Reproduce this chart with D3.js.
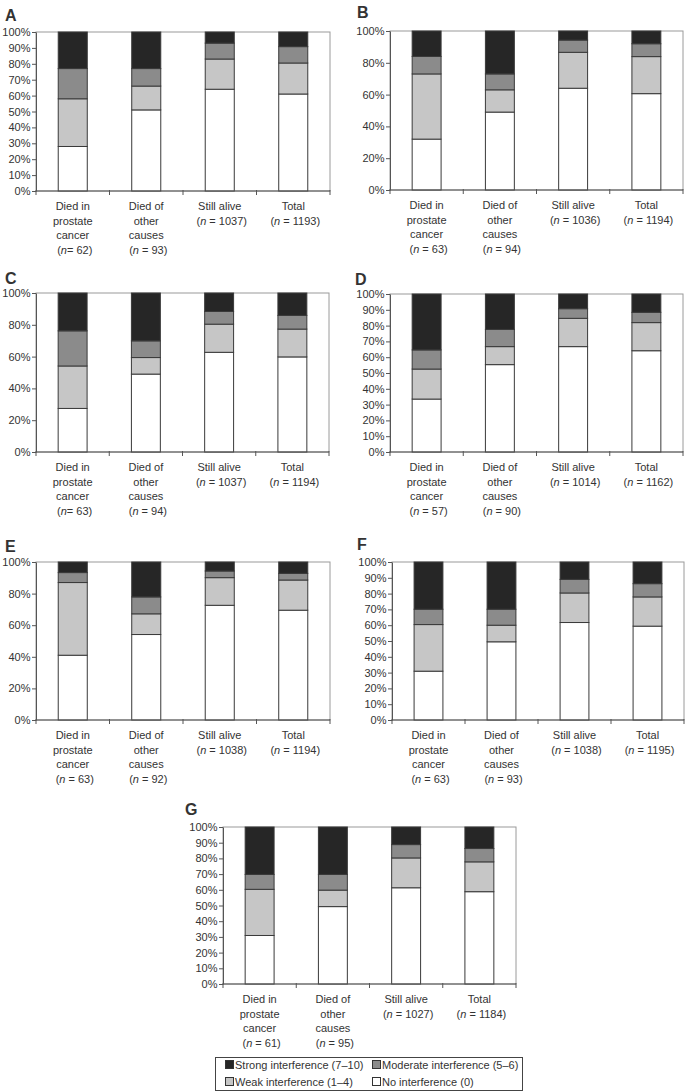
<!DOCTYPE html>
<html>
<head>
<meta charset="utf-8">
<script src="https://cdn.jsdelivr.net/npm/d3@7"></script>
<style>
  html, body { margin: 0; padding: 0; background: #fff; }
  svg { display: block; }
  text { font-family: "Liberation Sans", Arial, sans-serif; fill: #333; }
</style>
</head>
<body>
<svg id="chart" width="685" height="1092"></svg>
<script>
// ---------- DATA ----------
const panels = ["A", "B", "C", "D", "E", "F", "G"];
const groups = ["Died in prostate cancer", "Died of other causes", "Still alive", "Total"];
const groupLines = [["Died in", "prostate", "cancer"], ["Died of", "other", "causes"], ["Still alive"], ["Total"]];
const levels = ["No interference (0)", "Weak interference (1–4)", "Moderate interference (5–6)", "Strong interference (7–10)"];
const nValues = [
  [62, 93, 1037, 1193],
  [63, 94, 1036, 1194],
  [63, 94, 1037, 1194],
  [57, 90, 1014, 1162],
  [63, 92, 1038, 1194],
  [63, 93, 1038, 1195],
  [61, 95, 1027, 1184]
];
const tightN = [true, false, true, false, false, false, false]; // "(n= 62)" style on first group
const noneVals = [
  [28, 51, 64, 61],
  [32, 49, 64, 60.6],
  [27.4, 49, 62.7, 59.8],
  [33.5, 55.3, 66.7, 64.1],
  [41, 54.1, 72.6, 69.5],
  [30.9, 49.5, 61.7, 59.4],
  [30.9, 49.3, 61.3, 58.8]
];
const weakVals = [
  [30, 15, 19, 19.5],
  [41, 14, 22.6, 23.3],
  [26.7, 10.4, 17.7, 17.5],
  [19, 11.4, 17.9, 17.8],
  [46, 13.1, 17.5, 19.1],
  [29.5, 10.5, 18.7, 18.5],
  [29.4, 10.5, 19, 19]
];
const moderateVals = [
  [19, 11, 10, 10.3],
  [11, 10, 7.7, 8.1],
  [22.1, 10.5, 8, 8.6],
  [12.1, 10.9, 6.1, 6.5],
  [6.3, 10.7, 4.2, 4.2],
  [9.7, 10.1, 8.6, 8.4],
  [9.5, 10, 8.5, 8.5]
];
const strongVals = [
  [23, 23, 7, 9.2],
  [16, 27, 5.7, 8],
  [23.8, 30.1, 11.6, 14.1],
  [35.4, 22.4, 9.3, 11.6],
  [6.7, 22.1, 5.7, 7.2],
  [29.9, 29.9, 11, 13.7],
  [30.2, 30.2, 11.2, 13.7]
];
const yTickStep = [10, 20, 20, 10, 20, 10, 10];

// ---------- LAYOUT / STYLE ----------
const frames = [
  {x0: 36,  x1: 330, y0: 32,  y1: 191, lx: 5,   ly: 21},
  {x0: 390, x1: 683, y0: 31,  y1: 190, lx: 357, ly: 18},
  {x0: 36,  x1: 329, y0: 293, y1: 452, lx: 5,   ly: 284},
  {x0: 390, x1: 683, y0: 294, y1: 452, lx: 355, ly: 285},
  {x0: 36,  x1: 330, y0: 562, y1: 720, lx: 5,   ly: 552},
  {x0: 392, x1: 684, y0: 562, y1: 720, lx: 357, ly: 550},
  {x0: 223, x1: 516, y0: 827, y1: 984, lx: 185, ly: 815}
];
const colors = ["#ffffff", "#c6c6c6", "#8b8b8b", "#262626"];
const legendOrder = [3, 2, 1, 0];

const svg = d3.select("#chart");

panels.forEach((p, pi) => {
  const f = frames[pi];
  const series = [noneVals[pi], weakVals[pi], moderateVals[pi], strongVals[pi]];
  const rows = groups.map((g, gi) => {
    const r = {group: g};
    levels.forEach((l, li) => r[l] = series[li][gi]);
    return r;
  });
  const stacked = d3.stack().keys(levels)(rows);

  const x = d3.scaleBand().domain(groups).range([f.x0, f.x1]).paddingInner(0.605).paddingOuter(0.3025);
  const y = d3.scaleLinear().domain([0, 100]).range([f.y1, f.y0]);

  const g = svg.append("g");

  // frame (top/right)
  g.append("rect")
    .attr("x", f.x0).attr("y", f.y0)
    .attr("width", f.x1 - f.x0).attr("height", f.y1 - f.y0)
    .attr("fill", "none").attr("stroke", "#9a9a9a").attr("stroke-width", 1);

  // bars
  stacked.forEach((s, si) => {
    g.append("g").selectAll("rect").data(s).join("rect")
      .attr("x", d => x(d.data.group))
      .attr("width", x.bandwidth())
      .attr("y", d => y(d[1]))
      .attr("height", d => y(d[0]) - y(d[1]))
      .attr("fill", colors[si])
      .attr("stroke", "#3a3a3a")
      .attr("stroke-width", 1);
  });

  // y axis
  const ticks = d3.range(0, 100 + 0.001, yTickStep[pi]);
  const yAxis = d3.axisLeft(y).tickValues(ticks).tickFormat(d => d + "%").tickSize(4).tickSizeOuter(0).tickPadding(1.5);
  const ya = g.append("g").attr("transform", `translate(${f.x0},0)`).call(yAxis);
  ya.select(".domain").attr("stroke", "#555");
  ya.selectAll(".tick line").attr("stroke", "#555");
  ya.selectAll("text").attr("font-size", 11).attr("fill", "#333")
    .style("font-family", '"Liberation Sans", Arial, sans-serif');

  // x axis line
  g.append("line").attr("x1", f.x0).attr("x2", f.x1).attr("y1", f.y1).attr("y2", f.y1)
    .attr("stroke", "#555");
  // category boundary ticks
  const step = x.step();
  const bounds = d3.range(0, groups.length + 1).map(i => f.x0 + i * step);
  g.selectAll(".bt").data(bounds).join("line")
    .attr("x1", d => d).attr("x2", d => d)
    .attr("y1", f.y1 - 1).attr("y2", f.y1 + 4)
    .attr("stroke", "#555");

  // category labels
  groups.forEach((gName, gi) => {
    const cx = x(gName) + x.bandwidth() / 2;
    const lines = groupLines[gi];
    const t = g.append("text").attr("text-anchor", "middle").attr("font-size", 11);
    lines.forEach((ln, li) => {
      t.append("tspan").attr("x", cx).attr("y", f.y1 + 19 + li * 14.5).text(ln);
    });
    const nt = t.append("tspan").attr("x", cx + 2).attr("y", f.y1 + 19 + lines.length * 14.5);
    nt.append("tspan").text("(");
    nt.append("tspan").attr("font-style", "italic").text("n");
    nt.append("tspan").text((gi === 0 && tightN[pi] ? "= " : " = ") + nValues[pi][gi] + ")");
  });

  // panel letter
  g.append("text").attr("x", f.lx).attr("y", f.ly)
    .attr("font-size", 16).attr("font-weight", "bold").attr("fill", "#111").text(p);
});

// ---------- LEGEND ----------
const lg = svg.append("g");
lg.append("rect").attr("x", 215.5).attr("y", 1057.5).attr("width", 307).attr("height", 33)
  .attr("fill", "#fff").attr("stroke", "#444").attr("stroke-width", 1);
const legPos = [
  {sx: 225, tx: 235, y: 1069},
  {sx: 372, tx: 382, y: 1069},
  {sx: 225, tx: 235, y: 1086},
  {sx: 372, tx: 382, y: 1086}
];
legendOrder.forEach((li, k) => {
  const pp = legPos[k];
  lg.append("rect").attr("x", pp.sx + 0.5).attr("y", pp.y - 8.5).attr("width", 8).attr("height", 8)
    .attr("fill", colors[li]).attr("stroke", "#333").attr("stroke-width", 1);
  lg.append("text").attr("x", pp.tx).attr("y", pp.y).attr("font-size", 11).text(levels[li]);
});
</script>
</body>
</html>
